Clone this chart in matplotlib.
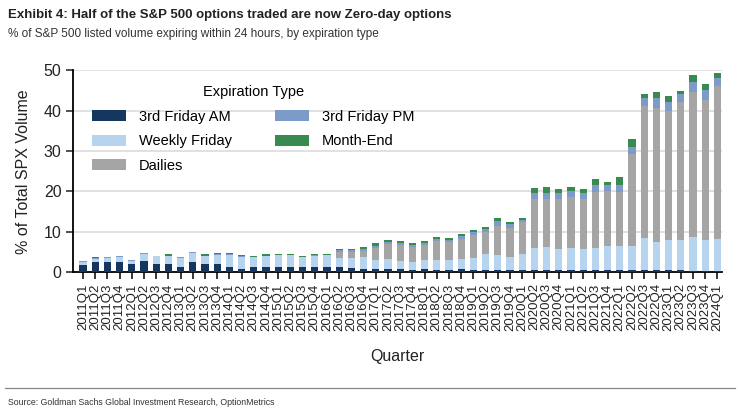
import numpy as np
import matplotlib.pyplot as plt

# quarters 2011Q1 .. 2024Q1
quarters = [f"{y}Q{q}" for y in range(2011, 2025) for q in range(1, 5)][:53]

am = [1.8, 2.4, 2.4, 2.6, 1.9, 2.8, 2.1, 2.1, 1.4, 2.4, 1.9, 2.1, 1.2, 0.7, 1.2, 1.4,
      1.4, 1.2, 1.2, 1.2, 1.3, 1.2, 1.0, 0.9, 0.8, 0.7, 0.7, 0.5, 0.8, 0.5, 0.5, 0.8,
      0.5, 0.5, 0.5, 0.5, 0.5, 0.5, 0.5, 0.5, 0.5, 0.5, 0.5, 0.5, 0.5, 0.5, 0.5, 0.5,
      0.5, 0.5, 0.3, 0.4, 0.3]
weekly = [0.7, 0.8, 1.2, 1.2, 0.9, 1.8, 1.9, 1.8, 2.2, 2.4, 2.0, 2.2, 3.1, 3.1, 2.5, 2.6,
          2.8, 3.0, 2.5, 2.8, 2.9, 2.4, 2.6, 2.9, 2.3, 2.6, 2.1, 2.1, 2.1, 2.6, 2.5, 2.5,
          3.1, 3.9, 3.7, 3.3, 3.9, 5.5, 5.8, 5.3, 5.5, 5.2, 5.5, 6.0, 5.9, 6.0, 8.0, 6.9,
          7.4, 7.4, 8.3, 7.6, 7.8]
dailies = [0, 0, 0, 0, 0, 0, 0, 0, 0, 0, 0, 0, 0, 0, 0, 0,
           0, 0, 0, 0, 0, 1.3, 1.3, 1.5, 2.9, 3.6, 4.0, 3.7, 3.8, 4.5, 4.5, 4.9,
           5.6, 5.5, 7.2, 7.2, 7.9, 12.0, 11.9, 12.2, 12.5, 12.4, 13.8, 13.6, 13.5, 22.7, 32.6, 33.3,
           32.1, 34.2, 36.0, 34.7, 37.9]
pm = [0.3, 0.2, 0.1, 0.1, 0.1, 0.1, 0.1, 0.1, 0.1, 0.1, 0.2, 0.1, 0.1, 0.1, 0.1, 0.1,
      0.1, 0.1, 0.1, 0.2, 0.1, 0.5, 0.5, 0.5, 0.6, 0.5, 0.5, 0.5, 0.6, 0.6, 0.5, 0.7,
      0.7, 0.8, 1.2, 0.9, 0.7, 1.5, 1.5, 1.5, 1.6, 1.6, 1.7, 1.6, 1.6, 1.8, 2.1, 2.3,
      2.2, 2.1, 2.5, 2.3, 2.1]
month_end = [0, 0.3, 0, 0, 0, 0, 0, 0.4, 0, 0, 0.3, 0.3, 0.3, 0.3, 0.3, 0.3,
             0.3, 0.3, 0.3, 0.3, 0.3, 0.4, 0.3, 0.4, 0.6, 0.5, 0.4, 0.4, 0.5, 0.5, 0.4, 0.6,
             0.5, 0.6, 0.7, 0.6, 0.4, 1.3, 1.3, 1.0, 1.0, 1.0, 1.5, 0.7, 2.1, 1.9, 1.0, 1.5,
             1.5, 0.7, 1.7, 1.6, 1.2]

series = [("3rd Friday AM", am, "#15365e"),
          ("Weekly Friday", weekly, "#b7d4ee"),
          ("Dailies", dailies, "#a5a5a5"),
          ("3rd Friday PM", pm, "#7d9bc8"),
          ("Month-End", month_end, "#388a51")]

plt.rcParams['font.family'] = ['Liberation Sans', 'DejaVu Sans']

fig = plt.figure(figsize=(7.4, 4.13), dpi=100)
ax = fig.add_axes([0.099, 0.341, 0.877, 0.489])

x = np.arange(len(quarters))
bottom = np.zeros(len(quarters))
handles = {}
for name, vals, col in series:
    v = np.array(vals)
    handles[name] = ax.bar(x, v, 0.58, bottom=bottom, color=col, label=name, zorder=3)
    bottom += v

ax.set_ylim(0, 50)
ax.set_xlim(-0.8, 52.4)
ax.set_yticks([0, 10, 20, 30, 40, 50])
ax.yaxis.grid(True, color="#dcdcdc", lw=1.2, zorder=0)
ax.spines['top'].set_visible(False)
ax.spines['right'].set_visible(False)
ax.spines['left'].set_linewidth(1.3)
ax.spines['bottom'].set_linewidth(1.3)
ax.set_xticks(x)
ax.set_xticklabels(quarters, rotation=90, fontsize=9.5, color="#222222")
ax.tick_params(axis='x', length=5, width=1.1, pad=3)
ax.tick_params(axis='y', length=5, width=1.1, labelsize=11.5, colors="#222222")
ax.set_ylabel("% of Total SPX Volume", fontsize=11.5, color="#222222", labelpad=9)
ax.set_xlabel("Quarter", fontsize=11.5, color="#222222", labelpad=13)

order = ["3rd Friday AM", "Weekly Friday", "Dailies", "3rd Friday PM", "Month-End"]
leg = ax.legend([handles[n] for n in order], order, ncol=2, loc="upper left",
                bbox_to_anchor=(0.029, 0.925), borderaxespad=0, borderpad=0,
                frameon=False, fontsize=10.5,
                title="Expiration Type", title_fontsize=10.5,
                handlelength=2.3, handleheight=0.8, handletextpad=0.9,
                columnspacing=3.0, labelspacing=0.72)

fig.text(0.011, 0.963, "Exhibit 4: Half of the S&P 500 options traded are now Zero-day options",
         fontsize=9.5, fontweight='bold', color="#222222", va='center')
fig.text(0.011, 0.918, "% of S&P 500 listed volume expiring within 24 hours, by expiration type",
         fontsize=8.5, color="#333333", va='center')
fig.add_artist(plt.Line2D([0.007, 0.993], [0.06, 0.06], color="#888888", lw=0.9))
fig.text(0.011, 0.025, "Source: Goldman Sachs Global Investment Research, OptionMetrics",
         fontsize=6.3, color="#333333", va='center')

fig.savefig("out.png", dpi=100)
